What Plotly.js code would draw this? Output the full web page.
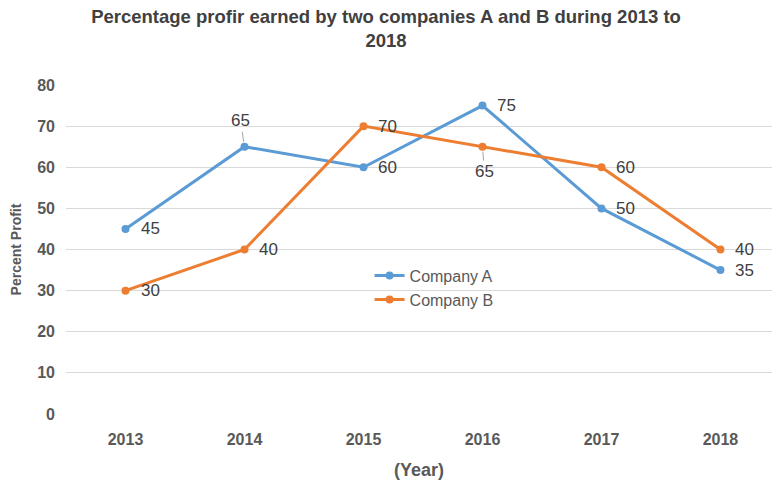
<!DOCTYPE html>
<html><head><meta charset="utf-8">
<script src="https://cdn.plot.ly/plotly-3.0.1.min.js"></script>
<style>body{margin:0;padding:0;background:#fff}#chart{width:772px;height:481px}</style>
</head><body><div id="chart"></div>
<script>
var years = ['2013','2014','2015','2016','2017','2018'];
var companyA = [45, 65, 60, 75, 50, 35];
var companyB = [30, 40, 70, 65, 60, 40];
var yTicks = [0,10,20,30,40,50,60,70,80];
// label placement per point (layout only)
var placeA = ['right','above','right','right','right','right'];
var placeB = ['right','right','right','below','right','right'];

var F = '"Liberation Sans", Arial, sans-serif';
var traces = [
 {x: years, y: companyA, name: 'Company A', mode: 'lines+markers',
  line: {color: '#5B9BD5', width: 3}, marker: {color: '#5B9BD5', size: 8}},
 {x: years, y: companyB, name: 'Company B', mode: 'lines+markers',
  line: {color: '#ED7D31', width: 3}, marker: {color: '#ED7D31', size: 8}}
];
function labels(vals, place) {
  return vals.map(function (v, i) {
    var a = {x: i, y: v, xref: 'x', yref: 'y', text: String(v),
      font: {family: F, size: 17, color: '#404040'}};
    if (place[i] === 'right') {
      a.showarrow = false; a.xanchor = 'left'; a.yanchor = 'middle'; a.xshift = 13;
    } else {
      a.showarrow = true; a.arrowhead = 0; a.arrowwidth = 1; a.arrowcolor = '#A6A6A6';
      a.standoff = 5; a.ax = place[i] === 'above' ? -4 : 2; a.ay = place[i] === 'above' ? -26 : 25;
    }
    return a;
  });
}
var layout = {
 width: 772, height: 481,
 margin: {l: 66, r: 0, t: 85, b: 67},
 paper_bgcolor: '#fff', plot_bgcolor: '#fff',
 font: {family: F, color: '#595959'},
 title: {text: '<b>Percentage profir earned by two companies A and B during 2013 to<br>2018</b>',
   font: {family: F, size: 18.5, color: '#404040'}, x: 0.5, xanchor: 'center', y: 0.953, yanchor: 'top'},
 xaxis: {type: 'category', range: [-0.5, 5.433], showgrid: false, zeroline: false, showline: false,
   ticks: '', ticklabelstandoff: 14, tickfont: {family: F, size: 16, color: '#595959', weight: 'bold'},
   title: {text: '<b>(Year)</b>', font: {family: F, size: 18, color: '#595959'}, standoff: 16}},
 yaxis: {range: [0, 80], tickvals: yTicks, showgrid: true, gridcolor: '#D9D9D9', gridwidth: 1,
   zeroline: false, showline: false, ticks: '', ticklabelstandoff: 10,
   tickfont: {family: F, size: 16, color: '#595959', weight: 'bold'},
   title: {text: '<b>Percent Profit</b>', font: {family: F, size: 14, color: '#595959'}, standoff: 12}},
 legend: {x: 0.43, y: 0.472, xanchor: 'left', yanchor: 'top', bgcolor: 'rgba(0,0,0,0)',
   font: {family: F, size: 16, color: '#595959'}, tracegroupgap: 0},
 annotations: labels(companyA, placeA).concat(labels(companyB, placeB)),
 showlegend: true
};
Plotly.newPlot('chart', traces, layout, {displayModeBar: false, staticPlot: true});
</script></body></html>
